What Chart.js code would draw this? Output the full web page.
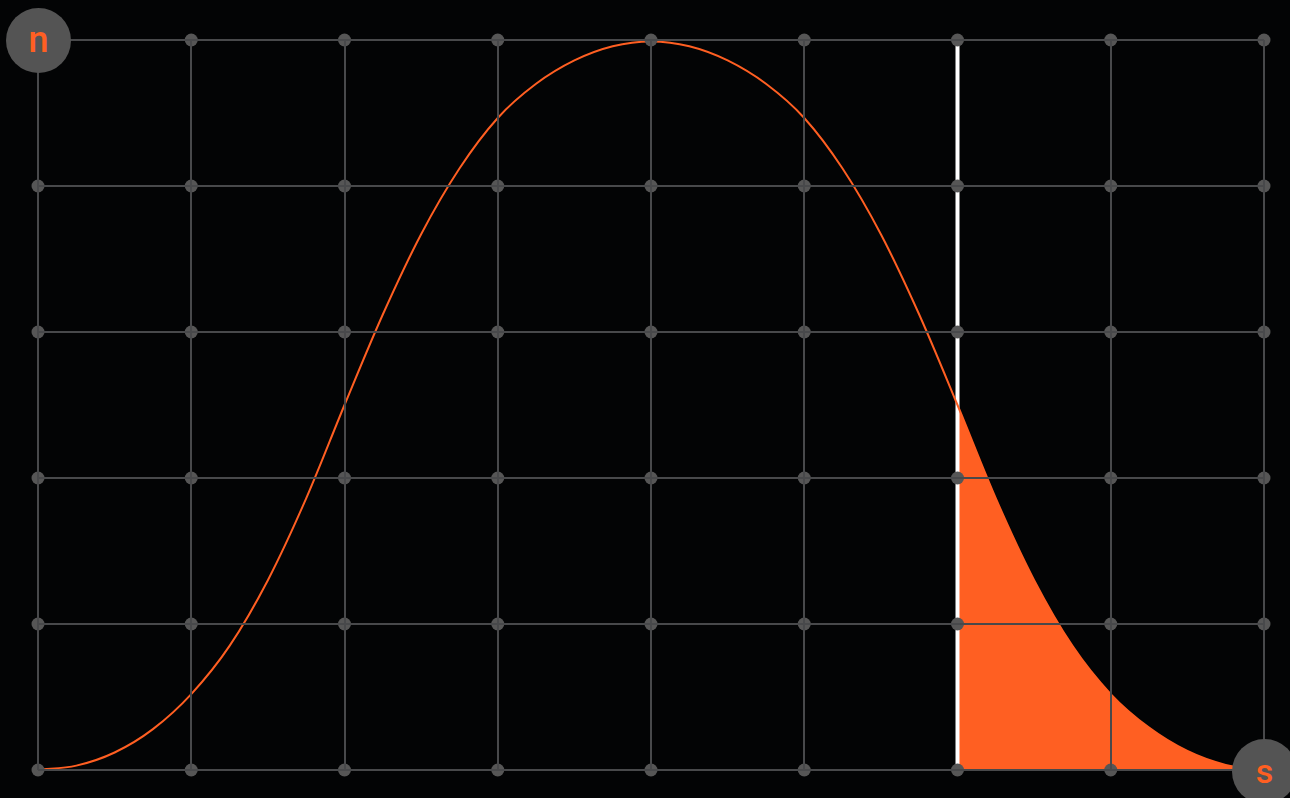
<!DOCTYPE html>
<html>
<head>
<meta charset="utf-8">
<script src="https://cdn.jsdelivr.net/npm/chart.js@4/dist/chart.umd.min.js"></script>
<style>
  html, body { margin: 0; padding: 0; background: #030405; overflow: hidden; }
  #wrap { position: relative; width: 1290px; height: 798px; }
  .badge {
    position: absolute; width: 65px; height: 65px; border-radius: 50%;
    background: #545454; color: #ff5f22; font-family: Roboto, "Noto Sans", sans-serif;
    font-weight: 500; display: flex; align-items: center; justify-content: center;
    line-height: 1; box-sizing: border-box;
  }
  #badgeN { left: 6px; top: 8px; font-size: 36px; padding-bottom: 1px; }
  #badgeS { left: 1232px; top: 739px; font-size: 34px; padding-bottom: 2px; }
</style>
</head>
<body>
<div id="wrap">
  <canvas id="chart" width="1290" height="798"></canvas>
  <div class="badge" id="badgeN">n</div>
  <div class="badge" id="badgeS">s</div>
</div>
<script>
  // valori
  var xTicks = [0, 1, 2, 3, 4, 5, 6, 7, 8];
  var yTicks = [0, 1, 2, 3, 4, 5];

  var curveX = [0, 0.25, 0.5, 0.75, 1, 1.25, 1.5, 1.75, 2, 2.25, 2.5, 2.75, 3, 3.25, 3.5, 3.75, 4,
                4.25, 4.5, 4.75, 5, 5.25, 5.5, 5.75, 6, 6.25, 6.5, 6.75, 7, 7.25, 7.5, 7.75, 8];
  var curveY = [0, 0.03, 0.12, 0.28, 0.52, 0.85, 1.30, 1.86, 2.50, 3.12, 3.67, 4.12, 4.466, 4.70, 4.86, 4.957, 4.99,
                4.957, 4.86, 4.70, 4.466, 4.12, 3.67, 3.12, 2.50, 1.86, 1.30, 0.85, 0.52, 0.29, 0.13, 0.035, 0];

  var cutX = 6;       // linea bianca
  var yMax = 5;

  var orange = '#ff5f22';
  var gridCol = '#48494b';

  var curvePts = curveX.map(function (x, i) { return { x: x, y: curveY[i] }; });
  var tailPts = curvePts.filter(function (p) { return p.x >= cutX; });
  var dots = [];
  xTicks.forEach(function (x) {
    yTicks.forEach(function (y) { dots.push({ x: x, y: y }); });
  });

  var ctx = document.getElementById('chart').getContext('2d');
  new Chart(ctx, {
    type: 'scatter',
    data: {
      datasets: [
        {
          label: 'dots',
          data: dots,
          pointRadius: 6.5,
          pointBackgroundColor: '#565656',
          pointBorderWidth: 0,
          showLine: false,
          clip: false,
          order: 0
        },
        {
          label: 'curve',
          data: curvePts,
          showLine: true,
          borderColor: orange,
          borderWidth: 2,
          pointRadius: 0,
          cubicInterpolationMode: 'monotone',
          clip: false,
          order: 1
        },
        {
          label: 'cut',
          data: [{ x: cutX, y: 0 }, { x: cutX, y: yMax }],
          showLine: true,
          borderColor: '#ffffff',
          borderWidth: 4,
          pointRadius: 0,
          order: 2
        },
        {
          label: 'tail',
          data: tailPts,
          showLine: true,
          borderWidth: 0,
          borderColor: orange,
          backgroundColor: orange,
          fill: 'origin',
          pointRadius: 0,
          cubicInterpolationMode: 'monotone',
          order: 3
        }
      ]
    },
    options: {
      responsive: false,
      animation: false,
      layout: { padding: { left: 38, right: 26, top: 40, bottom: 28 } },
      plugins: { legend: { display: false }, tooltip: { enabled: false } },
      scales: {
        x: {
          type: 'linear', min: 0, max: 8,
          afterBuildTicks: function (axis) { axis.ticks = xTicks.map(function (v) { return { value: v }; }); },
          ticks: { display: false },
          grid: {
            color: function (c) { return c.tick && c.tick.value === cutX ? 'rgba(0,0,0,0)' : gridCol; },
            lineWidth: 2, drawTicks: false, z: 1
          },
          border: { display: false }
        },
        y: {
          type: 'linear', min: 0, max: yMax,
          afterBuildTicks: function (axis) { axis.ticks = yTicks.map(function (v) { return { value: v }; }); },
          ticks: { display: false },
          grid: { color: gridCol, lineWidth: 2, drawTicks: false, z: 1 },
          border: { display: false }
        }
      }
    }
  });
</script>
</body>
</html>
